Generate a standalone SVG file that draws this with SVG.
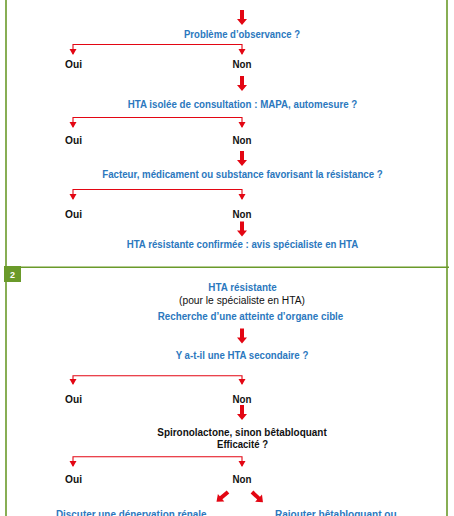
<svg xmlns="http://www.w3.org/2000/svg" width="454" height="516" viewBox="0 0 454 516">
<defs>
<style>
.t{font-family:"Liberation Sans",Arial,sans-serif;font-size:10px;font-weight:bold;text-anchor:middle}
.b{fill:#2b78be}
.k{fill:#111}
.r{font-weight:normal}
.ln{fill:none;stroke:#e30613;stroke-width:1.1}
.ah{fill:#e30613}
.fr{stroke:#6a9a2a;stroke-width:1.6;fill:none}
</style>
<path id="big" d="M-2,0 H2 V9 H5 L0,15 L-5,9 H-2 Z" fill="#e30613"/>
<path id="sm" d="M-3.5,-6 H3.5 L0,0 Z" fill="#e30613"/>
</defs>
<rect width="454" height="516" fill="#fff"/>
<g id="frame">
<line class="fr" x1="6" y1="0" x2="6" y2="516"/>
<line class="fr" x1="447" y1="0" x2="447" y2="516"/>
<line class="fr" x1="6" y1="267.3" x2="449" y2="267.3"/>
<rect x="4" y="266" width="17" height="16" fill="#6a9a2a"/>
<text x="12.5" y="277.5" font-family="Liberation Sans,Arial,sans-serif" font-size="9" font-weight="bold" fill="#fff" text-anchor="middle">2</text>
</g>
<g id="connectors">
<use href="#big" x="242" y="10"/>
<path class="ln" d="M73,54 V44.5 H242 V54"/>
<use href="#sm" x="73" y="55"/><use href="#sm" x="242" y="55"/>
<use href="#big" x="242" y="76"/>
<path class="ln" d="M73,127 V117.5 H242 V127"/>
<use href="#sm" x="73" y="128"/><use href="#sm" x="242" y="128"/>
<use href="#big" x="242" y="151"/>
<path class="ln" d="M73,199 V189.5 H242 V199"/>
<use href="#sm" x="73" y="200"/><use href="#sm" x="242" y="200"/>
<use href="#big" x="242" y="221.5"/>
<use href="#big" x="242" y="328.5"/>
<path class="ln" d="M73,384 V375.7 H242 V384"/>
<use href="#sm" x="73" y="385"/><use href="#sm" x="242" y="385"/>
<use href="#big" x="242" y="405"/>
<path class="ln" d="M73,466 V456.7 H242 V466"/>
<use href="#sm" x="73" y="467"/><use href="#sm" x="242" y="467"/>
<use href="#big" transform="translate(228,492) rotate(50)"/>
<use href="#big" transform="translate(252,492) rotate(-47)"/>
</g>
<g id="n1"><text class="t b" x="242" y="38.3" textLength="116" lengthAdjust="spacingAndGlyphs">Problème d’observance ?</text></g>
<g id="n1oui"><text class="t k" x="73.5" y="67.7" textLength="17" lengthAdjust="spacingAndGlyphs">Oui</text></g>
<g id="n1non"><text class="t k" x="242" y="67.7" textLength="19" lengthAdjust="spacingAndGlyphs">Non</text></g>
<g id="n2"><text class="t b" x="242.5" y="108.3" textLength="229.6" lengthAdjust="spacingAndGlyphs">HTA isolée de consultation : MAPA, automesure ?</text></g>
<g id="n2oui"><text class="t k" x="73.5" y="144.3" textLength="17" lengthAdjust="spacingAndGlyphs">Oui</text></g>
<g id="n2non"><text class="t k" x="242" y="144.3" textLength="19" lengthAdjust="spacingAndGlyphs">Non</text></g>
<g id="n3"><text class="t b" x="242.5" y="178.3" textLength="280.4" lengthAdjust="spacingAndGlyphs">Facteur, médicament ou substance favorisant la résistance ?</text></g>
<g id="n3oui"><text class="t k" x="73.5" y="217.7" textLength="17" lengthAdjust="spacingAndGlyphs">Oui</text></g>
<g id="n3non"><text class="t k" x="242" y="217.7" textLength="19" lengthAdjust="spacingAndGlyphs">Non</text></g>
<g id="n4"><text class="t b" x="242.5" y="247.7" textLength="231.6" lengthAdjust="spacingAndGlyphs">HTA résistante confirmée : avis spécialiste en HTA</text></g>
<g id="n5">
<text class="t b" x="242.5" y="291" textLength="68.4" lengthAdjust="spacingAndGlyphs">HTA résistante</text>
<text class="t k r" x="242" y="304.3" textLength="126" lengthAdjust="spacingAndGlyphs">(pour le spécialiste en HTA)</text>
<text class="t b" x="250.5" y="320" textLength="185.6" lengthAdjust="spacingAndGlyphs">Recherche d’une atteinte d’organe cible</text>
</g>
<g id="n6"><text class="t b" x="242" y="359" textLength="132.6" lengthAdjust="spacingAndGlyphs">Y a-t-il une HTA secondaire ?</text></g>
<g id="n6oui"><text class="t k" x="73.5" y="402.7" textLength="17" lengthAdjust="spacingAndGlyphs">Oui</text></g>
<g id="n6non"><text class="t k" x="242" y="402.7" textLength="19" lengthAdjust="spacingAndGlyphs">Non</text></g>
<g id="n7">
<text class="t k" x="242" y="436" textLength="169.4" lengthAdjust="spacingAndGlyphs">Spironolactone, sinon bêtabloquant</text>
<text class="t k" x="242.5" y="448.3" textLength="51" lengthAdjust="spacingAndGlyphs">Efficacité ?</text>
</g>
<g id="n7oui"><text class="t k" x="73.5" y="482.7" textLength="17" lengthAdjust="spacingAndGlyphs">Oui</text></g>
<g id="n7non"><text class="t k" x="242" y="482.7" textLength="19" lengthAdjust="spacingAndGlyphs">Non</text></g>
<g id="n8"><text class="t b" x="131.3" y="518" textLength="150.7" lengthAdjust="spacingAndGlyphs">Discuter une dénervation rénale</text></g>
<g id="n9"><text class="t b" x="335.8" y="518" textLength="121.7" lengthAdjust="spacingAndGlyphs">Rajouter bêtabloquant ou</text></g>
</svg>
